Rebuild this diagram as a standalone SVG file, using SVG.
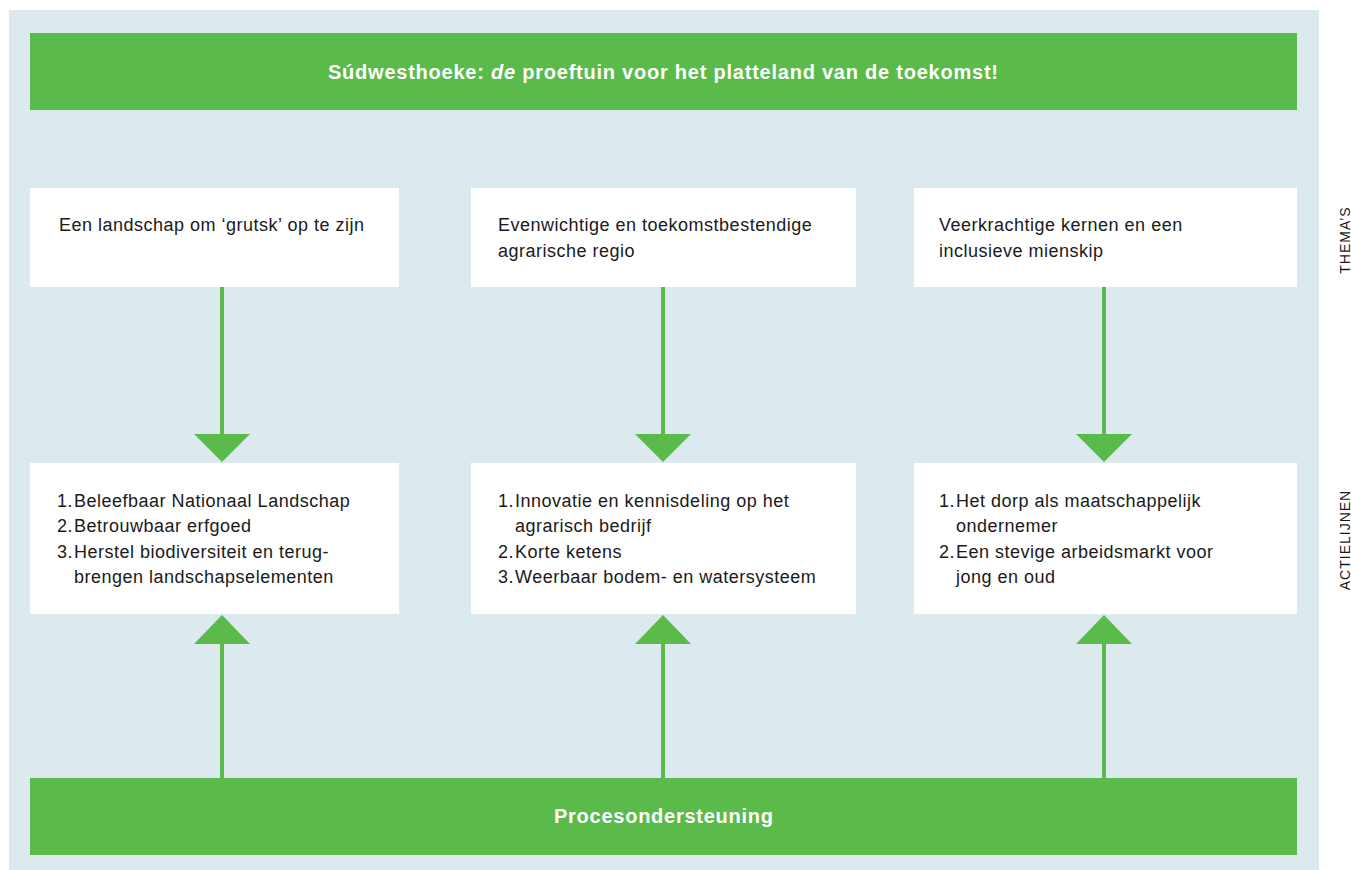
<svg xmlns="http://www.w3.org/2000/svg" width="1351" height="870" viewBox="0 0 1351 870">
<style>
.bar{fill:#5aba4a}
.box{fill:#ffffff}
.t{font-family:"Liberation Sans",Arial,sans-serif;font-size:18px;letter-spacing:0.5px;fill:#1a1a1a}
.h{font-family:"Liberation Sans",Arial,sans-serif;font-size:20px;font-weight:bold;fill:#ffffff}
.side{font-family:"Liberation Sans",Arial,sans-serif;font-size:14px;letter-spacing:1px;fill:#1a1a1a}
.ln{stroke:#5aba4a;stroke-width:4;fill:none}
.ah{fill:#5aba4a}
</style>
<rect width="1351" height="870" fill="#ffffff"/>
<rect x="9" y="10" width="1310" height="860" fill="#dceaef"/>
<g id="title">
<rect class="bar" x="30" y="33" width="1267" height="77"/>
<text class="h" x="328" y="79" textLength="670" lengthAdjust="spacing">Súdwesthoeke: <tspan font-style="italic">de</tspan> proeftuin voor het platteland van de toekomst!</text>
</g>
<g id="thema1"><rect class="box" x="30" y="188" width="369" height="99"/>
<text class="t" x="59" y="231">Een landschap om ‘grutsk’ op te zijn</text></g>
<g id="thema2"><rect class="box" x="471" y="188" width="385" height="99"/>
<text class="t" x="498" y="231">Evenwichtige en toekomstbestendige</text>
<text class="t" x="498" y="257">agrarische regio</text></g>
<g id="thema3"><rect class="box" x="914" y="188" width="383" height="99"/>
<text class="t" x="939" y="231">Veerkrachtige kernen en een</text>
<text class="t" x="939" y="257">inclusieve mienskip</text></g>
<g id="actie1"><rect class="box" x="30" y="463" width="369" height="151"/>
<text class="t" x="57" y="507">1.</text><text class="t" x="74" y="507">Beleefbaar Nationaal Landschap</text>
<text class="t" x="57" y="532">2.</text><text class="t" x="74" y="532">Betrouwbaar erfgoed</text>
<text class="t" x="57" y="558">3.</text><text class="t" x="74" y="558">Herstel biodiversiteit en terug-</text>
<text class="t" x="74" y="583">brengen landschapselementen</text></g>
<g id="actie2"><rect class="box" x="471" y="463" width="385" height="151"/>
<text class="t" x="498" y="507">1.</text><text class="t" x="515" y="507">Innovatie en kennisdeling op het</text>
<text class="t" x="515" y="532">agrarisch bedrijf</text>
<text class="t" x="498" y="558">2.</text><text class="t" x="515" y="558">Korte ketens</text>
<text class="t" x="498" y="583">3.</text><text class="t" x="515" y="583">Weerbaar bodem- en watersysteem</text></g>
<g id="actie3"><rect class="box" x="914" y="463" width="383" height="151"/>
<text class="t" x="939" y="507">1.</text><text class="t" x="956" y="507">Het dorp als maatschappelijk</text>
<text class="t" x="956" y="532">ondernemer</text>
<text class="t" x="939" y="558">2.</text><text class="t" x="956" y="558">Een stevige arbeidsmarkt voor</text>
<text class="t" x="956" y="583">jong en oud</text></g>
<g id="proces">
<rect class="bar" x="30" y="778" width="1267" height="77"/>
<text class="h" x="554" y="823" textLength="219" lengthAdjust="spacing">Procesondersteuning</text>
</g>
<g id="connectors">
<line class="ln" x1="222" y1="287" x2="222" y2="436"/>
<polygon class="ah" points="194,434 250,434 222,462"/>
<line class="ln" x1="663" y1="287" x2="663" y2="436"/>
<polygon class="ah" points="635,434 691,434 663,462"/>
<line class="ln" x1="1104" y1="287" x2="1104" y2="436"/>
<polygon class="ah" points="1076,434 1132,434 1104,462"/>
<line class="ln" x1="222" y1="642" x2="222" y2="778"/>
<polygon class="ah" points="194,644 250,644 222,615"/>
<line class="ln" x1="663" y1="642" x2="663" y2="778"/>
<polygon class="ah" points="635,644 691,644 663,615"/>
<line class="ln" x1="1104" y1="642" x2="1104" y2="778"/>
<polygon class="ah" points="1076,644 1132,644 1104,615"/>
</g>
<g id="labels">
<text class="side" transform="translate(1350,240) rotate(-90)" text-anchor="middle">THEMA’S</text>
<text class="side" transform="translate(1350,540) rotate(-90)" text-anchor="middle">ACTIELIJNEN</text>
</g>
</svg>
